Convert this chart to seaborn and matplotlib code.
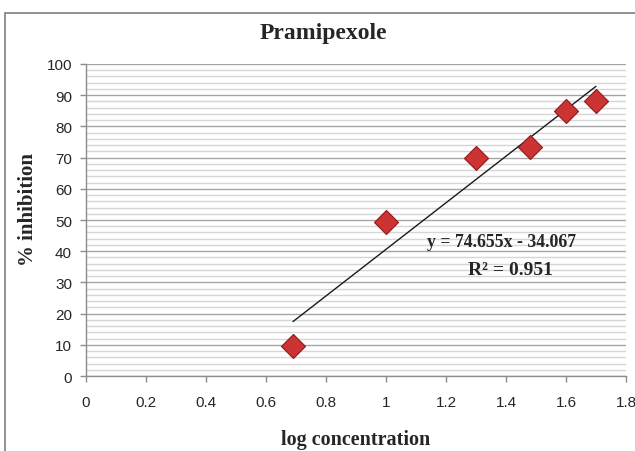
import numpy as np
import pandas as pd
import matplotlib
matplotlib.use("Agg")
import matplotlib.pyplot as plt
from matplotlib.patches import Rectangle
from matplotlib.ticker import MultipleLocator
import seaborn as sns

# data
log_conc = [0.69, 1.0, 1.3, 1.48, 1.6, 1.7]
inhibition = [9.5, 49.5, 70.0, 73.5, 85.0, 88.0]
slope = 74.655
intercept = -34.067
r2 = 0.951
x_ticks = [0, 0.2, 0.4, 0.6, 0.8, 1, 1.2, 1.4, 1.6, 1.8]
x_tick_labels = ["0", "0.2", "0.4", "0.6", "0.8", "1", "1.2", "1.4", "1.6", "1.8"]
y_ticks = list(range(0, 101, 10))

df = pd.DataFrame({"log_conc": log_conc, "inhibition": inhibition})
trend_x = [min(log_conc), max(log_conc)]
trend_y = [slope * v + intercept for v in trend_x]

sns.set_style("white")
serif = ["Liberation Serif", "DejaVu Serif"]
sans = ["Liberation Sans", "DejaVu Sans"]

fig = plt.figure(figsize=(6.35, 4.52), dpi=100)
ax = fig.add_axes([0.1354, 0.1659, 0.8504, 0.6903])

# outer chart border
fig.patches.append(Rectangle((5 / 635, -0.05), 1.0, 1 - 14 / 452 + 0.05,
                             transform=fig.transFigure, fill=False,
                             edgecolor="#7f7f7f", linewidth=1.2))

ax.set_xlim(0, 1.8)
ax.set_ylim(0, 100)
ax.yaxis.set_minor_locator(MultipleLocator(2))
ax.grid(which="minor", axis="y", color="#d6d6d6", linewidth=1.0)
ax.grid(which="major", axis="y", color="#a6a6a6", linewidth=1.0)
ax.set_axisbelow(True)

sns.lineplot(x=trend_x, y=trend_y, ax=ax, color="#1a1a1a", linewidth=1.0, zorder=3)
sns.scatterplot(data=df, x="log_conc", y="inhibition", ax=ax, marker="D", s=150,
                color="#cc3333", edgecolor="#8e1c1c", linewidth=0.8, zorder=4)

ax.set_xticks(x_ticks)
ax.set_xticklabels(x_tick_labels)
ax.set_yticks(y_ticks)
for lab in ax.get_xticklabels() + ax.get_yticklabels():
    lab.set_family(sans)
    lab.set_fontsize(11)
    lab.set_color("#262626")
ax.tick_params(axis="both", which="major", direction="out", length=4,
               width=1, color="#8c8c8c", bottom=True, left=True)
ax.tick_params(axis="y", which="minor", length=0)
ax.tick_params(axis="x", pad=10)
ax.tick_params(axis="y", pad=6)

for side in ["top", "right"]:
    ax.spines[side].set_visible(False)
for side in ["left", "bottom"]:
    ax.spines[side].set_color("#8c8c8c")
    ax.spines[side].set_linewidth(1.0)

ax.set_xlabel("log concentration", family=serif, fontsize=14.5, fontweight="bold",
              labelpad=14)
ax.set_ylabel("% inhibition", family=serif, fontsize=15, fontweight="bold")
ax.yaxis.set_label_coords((38 - 86) / 540, (377 - 209) / 312)
fig.text(323 / 635, 1 - 33 / 452, "Pramipexole", family=serif,
         fontsize=17, fontweight="bold", ha="center", va="center")

ax.text(1.385, 43, f"y = {slope}x - {abs(intercept)}", family=serif, fontsize=12.8,
        fontweight="bold", ha="center", va="center")
ax.text(1.415, 34, f"R² = {r2}", family=serif, fontsize=14, fontweight="bold",
        ha="center", va="center")

fig.savefig("out.png", dpi=100)
